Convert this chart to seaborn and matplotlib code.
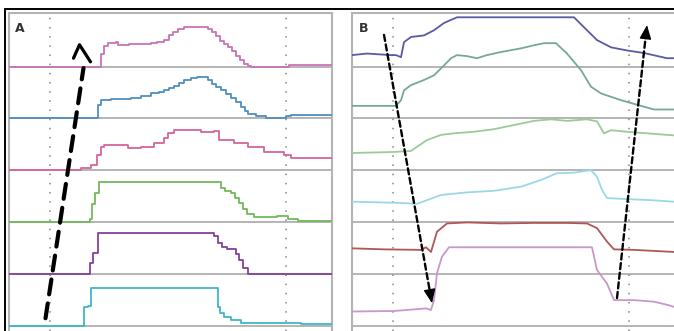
import matplotlib.pyplot as plt
import seaborn as sns
from matplotlib.lines import Line2D

# panel A: six stacked traces, time in samples, value as fraction of one strip
a1_t = [0, 90, 92, 95, 99, 107, 109, 120, 132, 142, 148, 155, 160, 164, 169, 175, 199, 203, 207, 211,
        215, 219, 223, 227, 231, 235, 239, 242, 280, 324]
a1_v = [0, 0, 0.25, 0.40, 0.46, 0.48, 0.42, 0.43, 0.44, 0.46, 0.48, 0.52, 0.60, 0.66, 0.73, 0.77, 0.72, 0.66, 0.58, 0.50,
        0.44, 0.37, 0.29, 0.21, 0.12, 0.04, 0.01, 0, 0.03, 0.03]

a2_t = [0, 89, 92, 97, 102, 110, 122, 132, 142, 150, 155, 160, 165, 170, 175, 182, 188, 199, 203, 207,
        212, 217, 222, 227, 232, 236, 239, 247, 257, 277, 282, 324]
a2_v = [0, 0.26, 0.35, 0.36, 0.37, 0.38, 0.40, 0.44, 0.48, 0.50, 0.54, 0.58, 0.63, 0.68, 0.73, 0.77, 0.79, 0.73, 0.67, 0.60,
        0.54, 0.47, 0.40, 0.31, 0.21, 0.14, 0.08, 0.04, 0.01, 0.04, 0.06, 0.06]

a3_t = [0, 62, 72, 82, 88, 92, 95, 115, 119, 132, 145, 155, 159, 165, 179, 192, 205, 210, 225, 239,
        255, 275, 282, 305, 324]
a3_v = [0, 0, 0.04, 0.10, 0.30, 0.44, 0.48, 0.48, 0.42, 0.44, 0.52, 0.62, 0.71, 0.77, 0.77, 0.73, 0.75, 0.58, 0.52, 0.44,
        0.35, 0.29, 0.23, 0.23, 0.25]

a4_t = [0, 81, 83, 86, 90, 212, 216, 222, 226, 230, 234, 238, 245, 268, 279, 289, 324]
a4_v = [0, 0.05, 0.35, 0.55, 0.77, 0.66, 0.60, 0.56, 0.46, 0.36, 0.25, 0.15, 0.10, 0.11, 0.06, 0.02, 0.02]

a5_t = [0, 81, 84, 89, 205, 209, 213, 218, 227, 230, 234, 239, 324]
a5_v = [0, 0.2, 0.39, 0.78, 0.72, 0.60, 0.51, 0.47, 0.38, 0.26, 0.11, 0.0, 0]

a6_t = [0, 75, 79, 82, 209, 211, 215, 222, 232, 249, 292, 324]
a6_v = [0, 0.36, 0.37, 0.72, 0.36, 0.25, 0.16, 0.10, 0.05, 0.05, 0.03, 0.03]

# panel B
b1_t = [0, 15, 39, 44, 49, 52, 59, 72, 82, 92, 105, 222, 235, 245, 259, 275, 292, 315, 330]
b1_v = [0.22, 0.25, 0.22, 0.22, 0.18, 0.47, 0.57, 0.60, 0.70, 0.84, 0.95, 0.95, 0.70, 0.51, 0.37, 0.31, 0.26, 0.16, 0.16]

b2_t = [0, 44, 49, 52, 59, 72, 82, 92, 99, 105, 115, 125, 135, 149, 169, 182, 192, 204, 215, 229,
        239, 249, 269, 289, 302, 330]
b2_v = [0.24, 0.24, 0.35, 0.54, 0.64, 0.74, 0.83, 1.02, 1.16, 1.22, 1.20, 1.16, 1.22, 1.28, 1.35, 1.41, 1.45, 1.45, 1.25, 0.93,
        0.61, 0.48, 0.35, 0.24, 0.17, 0.17]

b3_t = [0, 42, 59, 65, 75, 89, 102, 122, 142, 162, 182, 199, 215, 235, 245, 252, 259, 275, 295, 315, 330]
b3_v = [0.33, 0.35, 0.37, 0.45, 0.58, 0.68, 0.71, 0.74, 0.79, 0.87, 0.95, 0.98, 0.95, 0.98, 0.94, 0.71, 0.77, 0.74, 0.71, 0.68, 0.66]

b4_t = [0, 42, 65, 75, 89, 115, 142, 169, 189, 205, 222, 239, 245, 250, 255, 275, 299, 322, 330]
b4_v = [0.39, 0.37, 0.35, 0.42, 0.52, 0.57, 0.60, 0.68, 0.81, 0.94, 0.95, 1.0, 0.87, 0.62, 0.46, 0.44, 0.42, 0.39, 0.39]

b5_t = [0, 32, 69, 74, 79, 85, 95, 115, 149, 182, 215, 235, 245, 255, 262, 282, 322, 330]
b5_v = [0.49, 0.47, 0.46, 0.51, 0.42, 0.81, 0.97, 0.99, 0.97, 0.98, 0.98, 0.97, 0.88, 0.62, 0.47, 0.46, 0.42, 0.42]

b6_t = [0, 42, 74, 79, 82, 85, 90, 97, 240, 245, 255, 262, 282, 302, 315, 322, 330]
b6_v = [0.27, 0.28, 0.33, 0.30, 0.49, 1.01, 1.33, 1.51, 1.51, 1.07, 0.81, 0.49, 0.49, 0.46, 0.40, 0.36, 0.36]

a_traces = [(a1_t, a1_v), (a2_t, a2_v), (a3_t, a3_v), (a4_t, a4_v), (a5_t, a5_v), (a6_t, a6_v)]
b_traces = [(b1_t, b1_v), (b2_t, b2_v), (b3_t, b3_v), (b4_t, b4_v), (b5_t, b5_v), (b6_t, b6_v)]
a_colors = ["#c873b6", "#4f8fc0", "#d4669a", "#72b85a", "#84409c", "#3cb6c8"]
b_colors = ["#5a5aa2", "#76a892", "#9acb98", "#9cd8e4", "#b05656", "#c898c8"]
markers_t = [41, 277]  # dotted time marks

sns.set_theme(style="white")
fig = plt.figure(figsize=(6.74, 3.31), dpi=100)

ax_a = fig.add_axes([8.5 / 674, 0, 323.5 / 674, 318 / 331])
ax_b = fig.add_axes([352 / 674, 0, 332 / 674, 318 / 331])


def draw_panel(ax, traces, colors, steps, xmax, label):
    ax.set_xlim(0, xmax)
    ax.set_ylim(-5.5 / 51.8, 312.5 / 51.8)
    for k in range(6):
        ax.axhline(k, color="#a0a0a0", lw=1.1, zorder=1)
    for t in markers_t:
        ax.axvline(t, color="#858585", lw=1.1, ls=(0, (1, 5)), zorder=1)
    n = len(traces)
    for i, ((t, v), c) in enumerate(zip(traces, colors)):
        base = n - 1 - i  # top trace sits in the top strip
        y = [base + val for val in v]
        sns.lineplot(x=t, y=y, ax=ax, color=c, lw=1.3, estimator=None,
                     drawstyle="steps-post" if steps else "default", zorder=3)
    ax.set_xticks([])
    ax.set_yticks([])
    ax.set_xlabel("")
    ax.set_ylabel("")
    for side in ["left", "right", "top"]:
        ax.spines[side].set_color("#b4b4b4")
        ax.spines[side].set_linewidth(1.5)
    ax.spines["bottom"].set_visible(False)
    ax.text(11.5, 5.74, label, fontsize=9, fontweight="bold", color="#333333",
            ha="center", va="center")


draw_panel(ax_a, a_traces, a_colors, True, 323.5, "A")
draw_panel(ax_b, b_traces, b_colors, False, 332, "B")

# panel A: thick dashed arrow with open head
ax_a.annotate("", xy=(75, 4.97), xytext=(37, 0.14),
              arrowprops=dict(arrowstyle="-", lw=3, ls=(0, (3.6, 2.2)), color="black",
                              shrinkA=0, shrinkB=0))
ax_a.plot([65, 71, 82], [5.16, 5.42, 5.09], color="black", lw=2.3, solid_capstyle="round", zorder=5)

# panel B: thin dashed arrows with filled heads
for start, tip, back in [((32, 5.61), (80, 0.43), (78.6, 0.58)),
                         ((265, 0.53), (295, 5.80), (294.1, 5.65))]:
    ax_b.annotate("", xy=back, xytext=start,
                  arrowprops=dict(arrowstyle="-", lw=1.7, ls=(0, (2.6, 1.5)), color="black",
                                  shrinkA=0, shrinkB=0))
    ax_b.annotate("", xy=tip, xytext=back,
                  arrowprops=dict(arrowstyle="-|>,head_length=0.85,head_width=0.36", lw=1,
                                  color="black", mutation_scale=10, shrinkA=0, shrinkB=0))

# outer black frame (top and left)
fig.add_artist(Line2D([5 / 674, 1], [1 - 9 / 331, 1 - 9 / 331], color="black", lw=1.4,
                      transform=fig.transFigure))
fig.add_artist(Line2D([5 / 674, 5 / 674], [0, 1 - 9 / 331], color="black", lw=1.4,
                      transform=fig.transFigure))

fig.savefig("out.png", dpi=100)
